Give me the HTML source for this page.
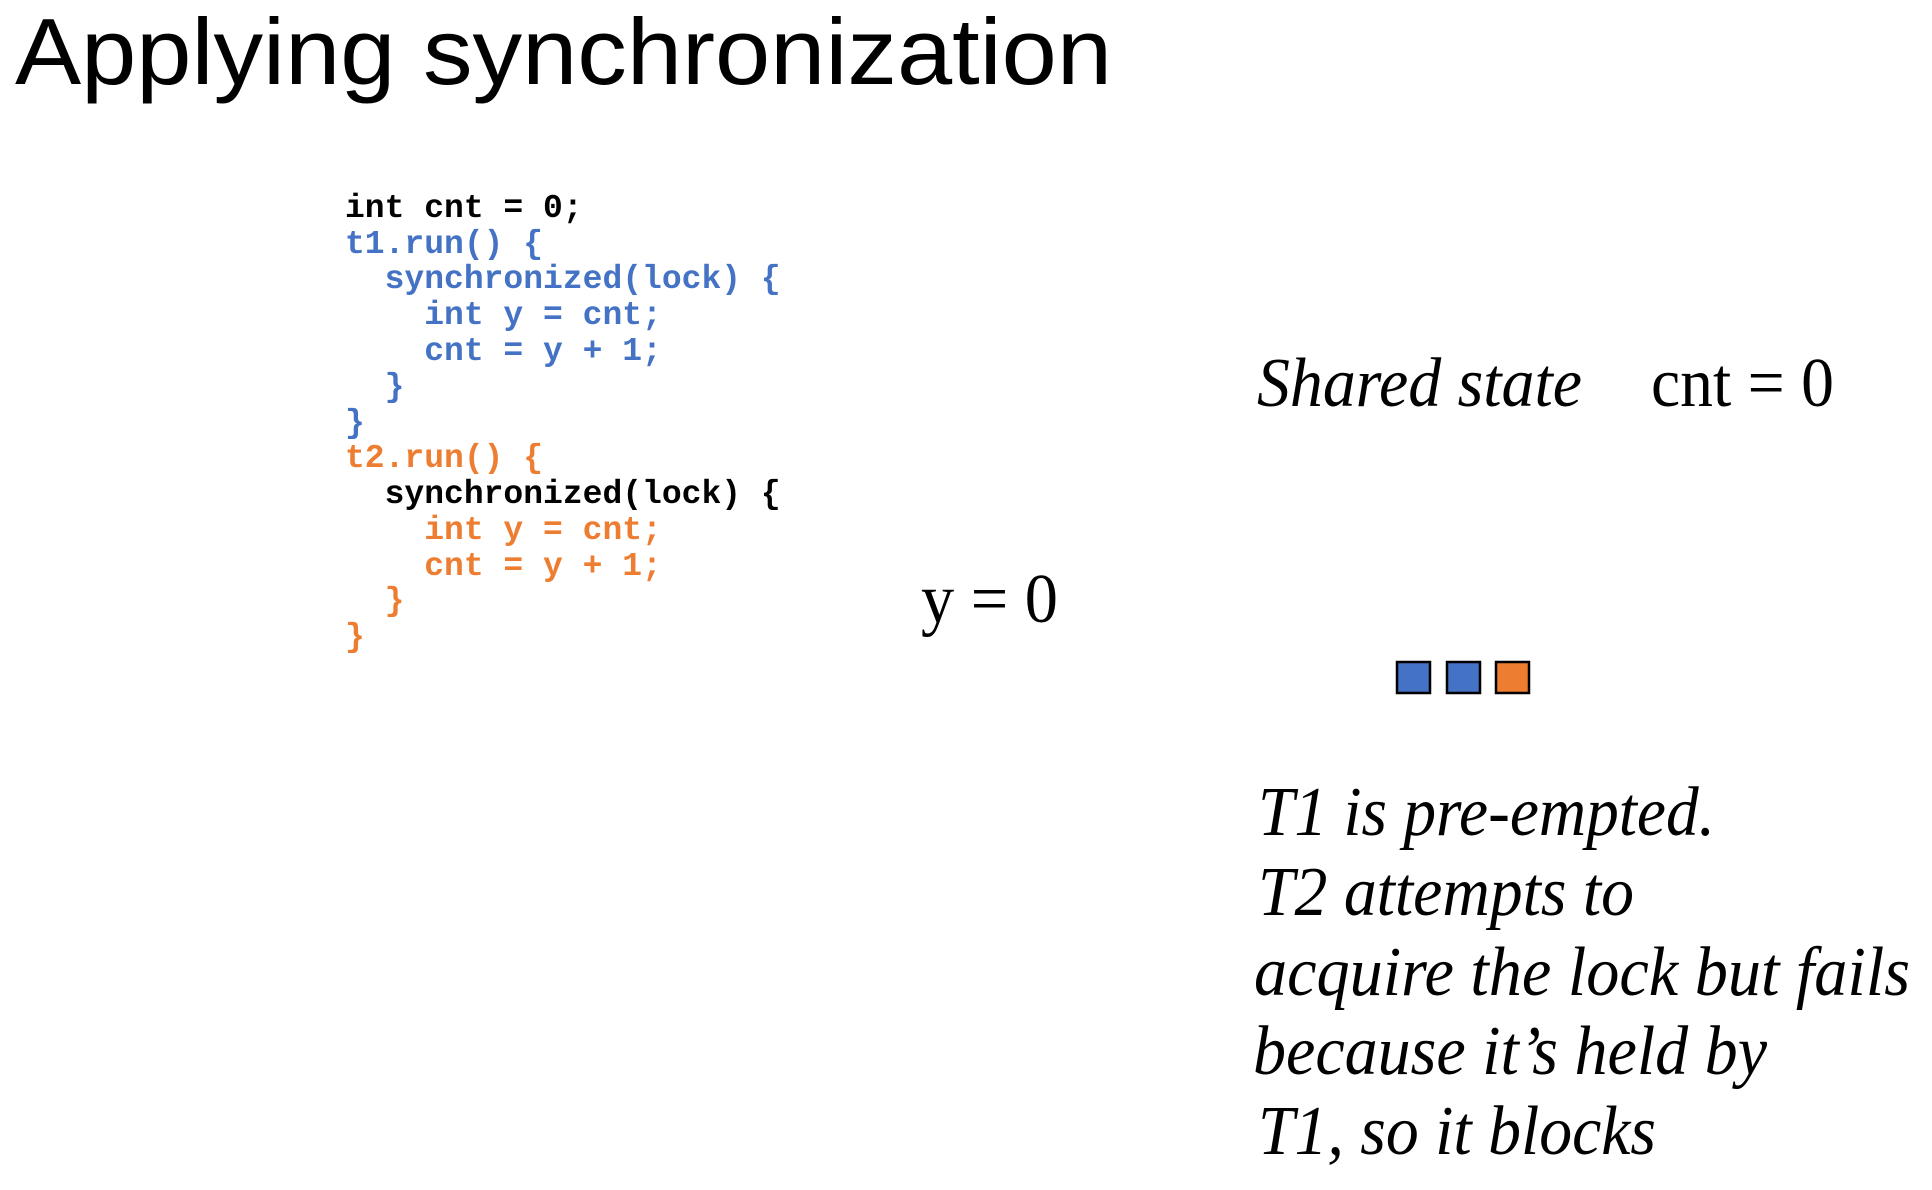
<!DOCTYPE html>
<html><head><meta charset="utf-8"><style>
html,body{margin:0;padding:0;background:#fff;}
svg{display:block;}
.code{font-family:"Liberation Mono",monospace;font-weight:bold;font-size:33px;}
.b{fill:#4472C4}.o{fill:#ED7D31}.k{fill:#000}
.ser{font-family:"Liberation Serif",serif;font-size:70px;fill:#000;}
.it{font-style:italic;}
</style></head><body>
<svg width="1932" height="1190" viewBox="0 0 1932 1190" xmlns="http://www.w3.org/2000/svg">
<text x="15" y="84" font-family="Liberation Sans, sans-serif" font-size="94" textLength="1097" lengthAdjust="spacingAndGlyphs">Applying synchronization</text>
<g class="code">
<text x="345" y="217" class="k">int cnt = 0;</text>
<text x="345" y="253" class="b">t1.run() {</text>
<text x="345" y="288" class="b">&#160;&#160;synchronized(lock) {</text>
<text x="345" y="324" class="b">&#160;&#160;&#160;&#160;int y = cnt;</text>
<text x="345" y="360" class="b">&#160;&#160;&#160;&#160;cnt = y + 1;</text>
<text x="345" y="396" class="b">&#160;&#160;}</text>
<text x="345" y="432" class="b">}</text>
<text x="345" y="467" class="o">t2.run() {</text>
<text x="345" y="503" class="k">&#160;&#160;synchronized(lock) {</text>
<text x="345" y="539" class="o">&#160;&#160;&#160;&#160;int y = cnt;</text>
<text x="345" y="575" class="o">&#160;&#160;&#160;&#160;cnt = y + 1;</text>
<text x="345" y="610" class="o">&#160;&#160;}</text>
<text x="345" y="646" class="o">}</text>
</g>
<text x="1257" y="406" class="ser it" textLength="325" lengthAdjust="spacingAndGlyphs">Shared state</text>
<text x="1651" y="406" class="ser" textLength="183" lengthAdjust="spacingAndGlyphs">cnt = 0</text>
<text x="921" y="622" class="ser" textLength="137" lengthAdjust="spacingAndGlyphs">y = 0</text>
<rect x="1404" y="666" width="33" height="31" fill="#4472C4" stroke="#000" stroke-width="2.5" transform="translate(-7,-4)"/>
<rect x="1454" y="666" width="33" height="31" fill="#4472C4" stroke="#000" stroke-width="2.5" transform="translate(-7,-4)"/>
<rect x="1503" y="666" width="33" height="31" fill="#ED7D31" stroke="#000" stroke-width="2.5" transform="translate(-7,-4)"/>
<g class="ser it" font-size="68">
<text x="1258" y="835" textLength="457" lengthAdjust="spacingAndGlyphs">T1 is pre-empted.</text>
<text x="1258" y="915" textLength="376" lengthAdjust="spacingAndGlyphs">T2 attempts to</text>
<text x="1254" y="995" textLength="656" lengthAdjust="spacingAndGlyphs">acquire the lock but fails</text>
<text x="1253" y="1074" textLength="514" lengthAdjust="spacingAndGlyphs">because it’s held by</text>
<text x="1258" y="1154" textLength="398" lengthAdjust="spacingAndGlyphs">T1, so it blocks</text>
</g>
</svg>
</body></html>
